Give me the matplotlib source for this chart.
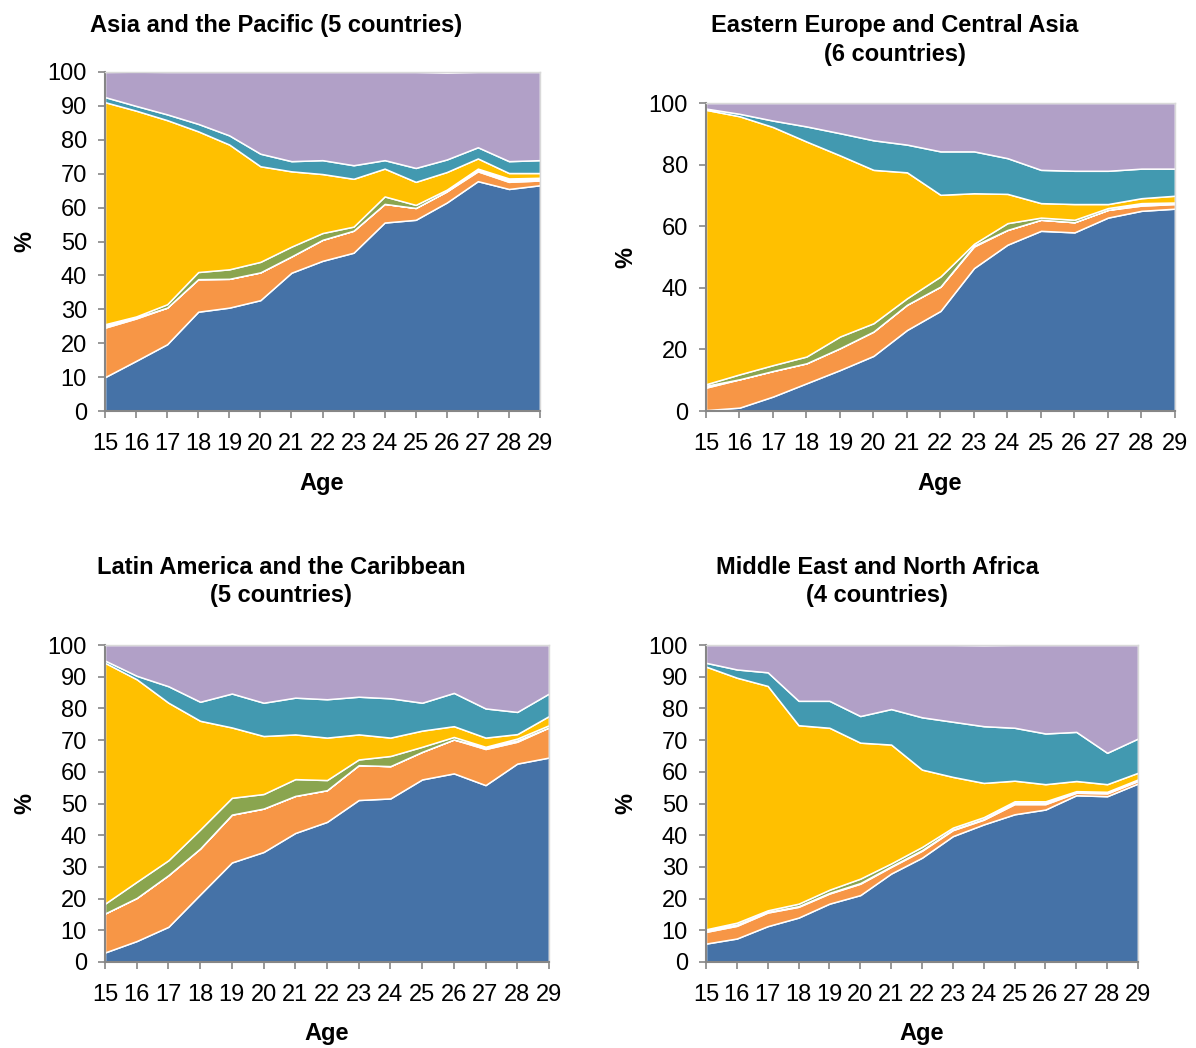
import matplotlib
matplotlib.use("Agg")
import matplotlib.pyplot as plt
import numpy as np

plt.rcParams['font.family'] = ['Liberation Sans Narrow', 'Liberation Sans', 'DejaVu Sans']

ages = list(range(15, 30))

colors = ['#4572a7', '#f79646', '#ffffff', '#8aa54f', '#ffc000', '#4299b0', '#b1a0c7']

# Asia and the Pacific
asia_blue = [10.0, 14.8, 19.7, 29.3, 30.5, 32.7, 40.8, 44.3, 46.7, 55.6, 56.4, 61.5, 67.8, 65.5, 66.6]
asia_orange = [14.6, 12.5, 10.8, 9.6, 8.5, 8.2, 4.8, 6.2, 6.5, 5.5, 3.5, 3.3, 2.9, 2.1, 1.4]
asia_white = [1.0, 0.3, 0.0, 0.0, 0.0, 0.0, 0.0, 0.0, 0.0, 0.0, 0.0, 0.0, 0.8, 1.0, 0.8]
asia_green = [0.0, 0.3, 1.0, 2.1, 2.8, 3.1, 2.9, 2.0, 1.2, 2.2, 0.9, 0.5, 0.0, 0.0, 0.0]
asia_yellow = [65.5, 60.7, 54.3, 41.5, 36.8, 28.2, 22.2, 17.4, 14.1, 8.2, 6.8, 5.2, 3.0, 1.6, 1.4]
asia_teal = [1.5, 1.4, 1.7, 2.2, 2.7, 3.7, 3.0, 4.1, 4.0, 2.5, 4.1, 3.7, 3.3, 3.5, 3.8]
asia_purple = [7.4, 10.1, 12.5, 15.3, 18.7, 24.1, 26.3, 26.0, 27.5, 26.0, 28.3, 25.6, 22.2, 26.3, 26.0]

# Eastern Europe and Central Asia
eeca_blue = [0.3, 1.1, 4.7, 9.0, 13.3, 17.9, 26.3, 32.5, 46.4, 54.0, 58.5, 58.0, 62.8, 65.0, 65.7]
eeca_orange = [7.3, 9.2, 8.3, 6.5, 7.1, 7.9, 8.2, 7.9, 7.0, 4.8, 3.6, 3.3, 2.5, 1.7, 1.5]
eeca_white = [0.6, 0.0, 0.0, 0.0, 0.0, 0.0, 0.0, 0.0, 0.3, 0.0, 0.0, 0.0, 0.0, 0.4, 0.3]
eeca_green = [0.5, 1.6, 1.9, 2.2, 3.8, 2.7, 2.1, 3.3, 0.6, 2.2, 0.7, 0.8, 0.6, 0.4, 0.2]
eeca_yellow = [89.1, 83.8, 77.3, 69.8, 58.8, 49.8, 40.9, 26.5, 16.4, 9.5, 4.7, 5.1, 1.3, 1.6, 2.2]
eeca_teal = [0.4, 0.8, 2.1, 4.9, 7.2, 9.6, 9.0, 14.1, 13.6, 11.6, 10.8, 10.8, 10.8, 9.6, 8.8]
eeca_purple = [1.8, 3.5, 5.7, 7.6, 9.8, 12.1, 13.5, 15.7, 15.7, 17.9, 21.7, 22.0, 22.0, 21.3, 21.3]

# Latin America and the Caribbean
lac_blue = [3.0, 6.6, 11.1, 21.3, 31.4, 34.7, 40.7, 44.2, 51.1, 51.6, 57.6, 59.5, 55.8, 62.6, 64.5]
lac_orange = [12.3, 13.6, 16.3, 14.5, 15.1, 13.7, 11.7, 10.0, 11.0, 10.2, 8.7, 10.7, 11.4, 6.9, 9.5]
lac_white = [0.0, 0.0, 0.0, 0.0, 0.0, 0.0, 0.0, 0.0, 0.0, 0.0, 0.0, 0.0, 0.5, 0.4, 0.0]
lac_green = [3.1, 5.1, 4.7, 6.0, 5.3, 4.6, 5.3, 3.2, 1.8, 3.2, 1.6, 0.8, 0.2, 0.6, 0.7]
lac_yellow = [76.0, 63.9, 49.7, 34.3, 22.2, 18.3, 14.1, 13.4, 7.9, 5.8, 5.1, 3.4, 2.9, 1.4, 2.9]
lac_teal = [0.7, 1.1, 5.2, 6.0, 10.7, 10.5, 11.6, 12.1, 11.9, 12.4, 8.8, 10.5, 9.2, 7.0, 7.1]
lac_purple = [4.9, 9.7, 13.0, 17.9, 15.3, 18.2, 16.6, 17.1, 16.3, 16.8, 18.2, 15.1, 20.0, 21.1, 15.3]

# Middle East and North Africa
mena_blue = [5.8, 7.4, 11.3, 14.0, 18.4, 21.1, 27.9, 32.9, 39.7, 43.4, 46.6, 48.1, 52.6, 52.3, 56.3]
mena_orange = [3.7, 4.0, 4.3, 3.4, 3.2, 3.6, 2.1, 2.2, 1.9, 1.5, 3.2, 1.7, 0.8, 0.9, 0.8]
mena_white = [0.6, 0.4, 0.2, 0.2, 0.2, 0.2, 0.2, 0.2, 0.2, 0.2, 0.4, 0.4, 0.2, 0.3, 0.2]
mena_green = [0.2, 0.6, 0.5, 0.8, 1.0, 1.4, 0.9, 1.0, 0.6, 0.6, 0.5, 0.5, 0.3, 0.2, 0.3]
mena_yellow = [82.9, 77.3, 70.8, 56.3, 51.1, 42.9, 37.5, 24.4, 16.0, 10.8, 6.5, 5.4, 3.2, 2.4, 2.1]
mena_teal = [1.2, 2.6, 4.3, 7.7, 8.5, 8.4, 11.2, 16.5, 17.4, 17.9, 16.7, 16.0, 15.5, 9.9, 10.8]
mena_purple = [5.6, 7.7, 8.6, 17.6, 17.6, 22.4, 20.2, 22.8, 24.2, 25.5, 26.1, 27.9, 27.4, 34.0, 29.5]

panels = [
    ("Asia and the Pacific (5 countries)",
     [asia_blue, asia_orange, asia_white, asia_green, asia_yellow, asia_teal, asia_purple],
     [0.0878, 0.6078, 0.3637, 0.3235], 10, (0.2312, 0.976), (0.2692, 0.539), 0.021),
    ("Eastern Europe and Central Asia\n(6 countries)",
     [eeca_blue, eeca_orange, eeca_white, eeca_green, eeca_yellow, eeca_teal, eeca_purple],
     [0.5903, 0.6078, 0.3921, 0.2939], 20, (0.7483, 0.962), (0.786, 0.539), 0.523),
    ("Latin America and the Caribbean\n(5 countries)",
     [lac_blue, lac_orange, lac_white, lac_green, lac_yellow, lac_teal, lac_purple],
     [0.0878, 0.0821, 0.3712, 0.3024], 10, (0.235, 0.445), (0.2734, 0.014), 0.021),
    ("Middle East and North Africa\n(4 countries)",
     [mena_blue, mena_orange, mena_white, mena_green, mena_yellow, mena_teal, mena_purple],
     [0.5903, 0.0821, 0.3612, 0.3024], 10, (0.7333, 0.445), (0.771, 0.014), 0.523),
]

fig = plt.figure(figsize=(11.96, 10.48), dpi=100)

for title, layers, pos, step, tpos, apos, pct_x in panels:
    ax = fig.add_axes(pos)
    ax.stackplot(ages, *layers, colors=colors, edgecolor='white', linewidth=1.1)
    ax.set_xlim(15, 29)
    ax.set_ylim(0, 100)
    ax.set_xticks(ages)
    ax.set_yticks(np.arange(0, 101, step))
    ax.tick_params(labelsize=17, length=5, width=1.2, color='#868686', direction='out')
    ax.tick_params(axis='x', pad=11)
    ax.tick_params(axis='y', pad=8)
    for s in ['left', 'bottom']:
        ax.spines[s].set_color('#868686')
        ax.spines[s].set_linewidth(1.5)
    for s in ['top', 'right']:
        ax.spines[s].set_color('#d9d9d9')
        ax.spines[s].set_linewidth(1.0)
    # chart titles, axis titles
    fig.text(tpos[0], tpos[1], title, ha='center', va='center', fontsize=17,
             fontweight='bold', linespacing=1.3)
    fig.text(apos[0], apos[1], 'Age', ha='center', va='center', fontsize=17,
             fontweight='bold')
    fig.text(pct_x, pos[1] + pos[3] / 2, '%', ha='center', va='center',
             rotation=90, fontsize=17, fontweight='bold')

fig.savefig('out.png', dpi=100)
